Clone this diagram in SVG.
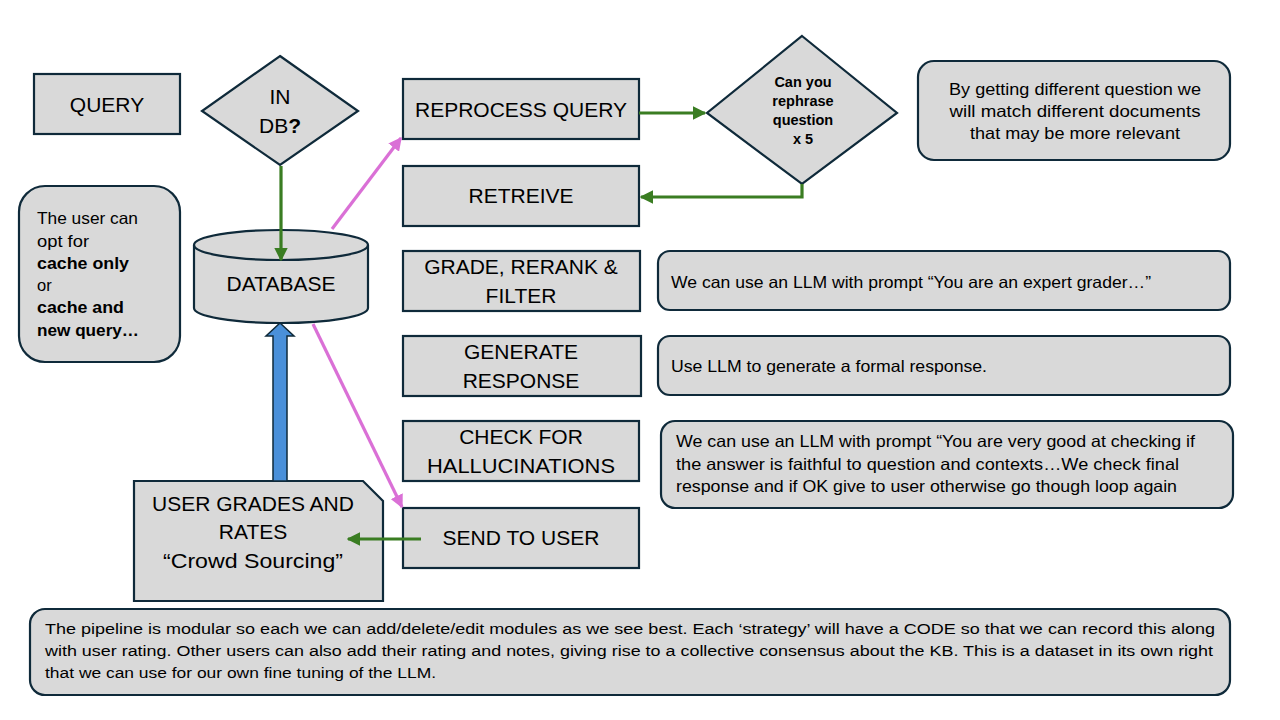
<svg xmlns="http://www.w3.org/2000/svg" width="1280" height="720" viewBox="0 0 1280 720">
<style>
.box{fill:#D9D9D9;stroke:#0F2A3A;stroke-width:2.2}
.lbl{font-family:"Liberation Sans",Arial,sans-serif;font-size:21px;fill:#000;text-anchor:middle}
.note{font-family:"Liberation Sans",Arial,sans-serif;font-size:16.5px;fill:#000}
.bold{font-weight:bold}
.dtxt{font-size:14.5px;text-anchor:middle}
.green{fill:none;stroke:#3A7D22;stroke-width:3.2}
.pink{fill:none;stroke:#DA70D6;stroke-width:3.2}
</style>
<defs>
<marker id="ag" viewBox="0 0 10 10" refX="9" refY="5" markerWidth="4.2" markerHeight="4.2" orient="auto" markerUnits="strokeWidth">
<path d="M0,0 L10,5 L0,10 Z" fill="#3A7D22"/>
</marker>
<marker id="ap" viewBox="0 0 10 10" refX="9" refY="5" markerWidth="4.2" markerHeight="4.2" orient="auto" markerUnits="strokeWidth">
<path d="M0,0 L10,5 L0,10 Z" fill="#DA70D6"/>
</marker>
</defs>
<rect width="1280" height="720" fill="#FFFFFF"/>

<g id="query">
<rect class="box" x="34" y="74" width="146" height="60"/>
<text class="lbl" x="107" y="112">QUERY</text>
</g>

<g id="in-db">
<polygon class="box" points="280,56 358,111 280,165 202,111"/>
<text class="lbl" x="280" y="104">IN</text>
<text class="lbl" x="280" y="133">DB<tspan class="bold">?</tspan></text>
</g>

<g id="database">
<path class="box" d="M194,245 L194,308 A87,15 0 0 0 368,308 L368,245 A87,15 0 0 0 194,245 Z"/>
<path class="box" style="fill:none" d="M194,245 A87,15 0 0 0 368,245"/>
<text class="lbl" x="281" y="291">DATABASE</text>
</g>

<g id="cache-note">
<rect class="box" x="19" y="186" width="161" height="176" rx="26"/>
<text class="note" x="37" y="224" textLength="101" lengthAdjust="spacingAndGlyphs">The user can</text>
<text class="note" x="37" y="247" textLength="52" lengthAdjust="spacingAndGlyphs">opt for</text>
<text class="note" x="37" y="291">or</text>
<text class="note bold" x="37" y="269" textLength="92" lengthAdjust="spacingAndGlyphs">cache only</text>
<text class="note bold" x="37" y="313" textLength="87" lengthAdjust="spacingAndGlyphs">cache and</text>
<text class="note bold" x="37" y="336" textLength="102" lengthAdjust="spacingAndGlyphs">new query…</text>
</g>

<g id="reprocess">
<rect class="box" x="403" y="79" width="236" height="60"/>
<text class="lbl" x="521" y="117">REPROCESS QUERY</text>
</g>

<g id="retrieve">
<rect class="box" x="403" y="166" width="236" height="60"/>
<text class="lbl" x="521" y="203">RETREIVE</text>
</g>

<g id="grade">
<rect class="box" x="403" y="251" width="237" height="60"/>
<text class="lbl" x="521" y="274">GRADE, RERANK &amp;</text>
<text class="lbl" x="521" y="303">FILTER</text>
</g>

<g id="generate">
<rect class="box" x="403" y="336" width="238" height="60"/>
<text class="lbl" x="521" y="359">GENERATE</text>
<text class="lbl" x="521" y="388">RESPONSE</text>
</g>

<g id="check">
<rect class="box" x="403" y="421" width="236" height="60"/>
<text class="lbl" x="521" y="444">CHECK FOR</text>
<text class="lbl" x="521" y="473" textLength="188" lengthAdjust="spacingAndGlyphs">HALLUCINATIONS</text>
</g>

<g id="send">
<rect class="box" x="403" y="508" width="236" height="60"/>
<text class="lbl" x="521" y="545">SEND TO USER</text>
</g>

<g id="rephrase">
<polygon class="box" points="802,36 897,113 802,184 707,113"/>
<text class="note bold dtxt" x="803" y="87">Can you</text>
<text class="note bold dtxt" x="803" y="106">rephrase</text>
<text class="note bold dtxt" x="803" y="125">question</text>
<text class="note bold dtxt" x="803" y="144">x 5</text>
</g>

<g id="rephrase-note">
<rect class="box" x="918" y="61" width="312" height="99" rx="16"/>
<text class="note" text-anchor="middle" x="1075" y="95" textLength="252" lengthAdjust="spacingAndGlyphs">By getting different question we</text>
<text class="note" text-anchor="middle" x="1075" y="117" textLength="251" lengthAdjust="spacingAndGlyphs">will match different documents</text>
<text class="note" text-anchor="middle" x="1075" y="139" textLength="210" lengthAdjust="spacingAndGlyphs">that may be more relevant</text>
</g>

<g id="grade-note">
<rect class="box" x="658" y="251" width="572" height="59" rx="12"/>
<text class="note" x="671" y="288" textLength="480" lengthAdjust="spacingAndGlyphs">We can use an LLM with prompt “You are an expert grader…”</text>
</g>

<g id="generate-note">
<rect class="box" x="658" y="336" width="572" height="59" rx="12"/>
<text class="note" x="671" y="372" textLength="316" lengthAdjust="spacingAndGlyphs">Use LLM to generate a formal response.</text>
</g>

<g id="check-note">
<rect class="box" x="661" y="421" width="572" height="87" rx="14"/>
<text class="note" x="676" y="447" textLength="519" lengthAdjust="spacingAndGlyphs">We can use an LLM with prompt “You are very good at checking if</text>
<text class="note" x="676" y="470" textLength="503" lengthAdjust="spacingAndGlyphs">the answer is faithful to question and contexts…We check final</text>
<text class="note" x="676" y="492" textLength="501" lengthAdjust="spacingAndGlyphs">response and if OK give to user otherwise go though loop again</text>
</g>

<g id="user-grades">
<path class="box" d="M134,481 L363,481 L383,501 L383,601 L134,601 Z"/>
<text class="lbl" x="253" y="511">USER GRADES AND</text>
<text class="lbl" x="253" y="539">RATES</text>
<text class="lbl" x="253" y="568" textLength="180" lengthAdjust="spacingAndGlyphs">“Crowd Sourcing”</text>
</g>

<g id="pipeline-note">
<rect class="box" x="30" y="609" width="1200" height="86" rx="15"/>
<text class="note" style="font-size:15.5px" x="45" y="634" textLength="1170" lengthAdjust="spacingAndGlyphs">The pipeline is modular so each we can add/delete/edit modules as we see best. Each ‘strategy’ will have a CODE so that we can record this along</text>
<text class="note" style="font-size:15.5px" x="45" y="656" textLength="1168" lengthAdjust="spacingAndGlyphs">with user rating. Other users can also add their rating and notes, giving rise to a collective consensus about the KB. This is a dataset in its own right</text>
<text class="note" style="font-size:15.5px" x="45" y="678" textLength="391" lengthAdjust="spacingAndGlyphs">that we can use for our own fine tuning of the LLM.</text>
</g>

<g id="connectors">
<line class="green" x1="281" y1="166" x2="281" y2="260" marker-end="url(#ag)"/>
<line class="green" x1="639" y1="113" x2="705" y2="113" marker-end="url(#ag)"/>
<polyline class="green" points="802,184 802,197 641,197" marker-end="url(#ag)"/>
<line class="green" x1="421" y1="539" x2="348" y2="539" marker-end="url(#ag)"/>
<line class="pink" x1="332" y1="229" x2="401" y2="138" marker-end="url(#ap)"/>
<line class="pink" x1="313" y1="324" x2="402" y2="507" marker-end="url(#ap)"/>
<polygon points="273,481 273,336 266,336 280,323 294,336 287,336 287,481" fill="#4A90D9" stroke="#0F2A3A" stroke-width="1.5"/>
</g>
</svg>
